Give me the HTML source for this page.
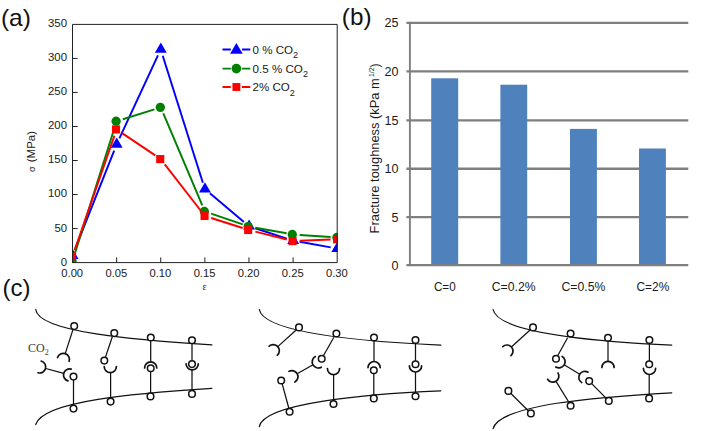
<!DOCTYPE html>
<html lang="en"><head><meta charset="utf-8"><title>Figure</title>
<style>html,body{margin:0;padding:0;background:#fff}svg{display:block}</style></head>
<body>
<svg width="705" height="431" viewBox="0 0 705 431">
<rect width="705" height="431" fill="#fff"/>
<defs><clipPath id="cpa"><rect x="72.00" y="23.90" width="265.70" height="239.20"/></clipPath></defs>
<g clip-path="url(#cpa)">
<line x1="74.93" y1="249.46" x2="114.18" y2="150.52" stroke="#0000ff" stroke-width="1.95"/>
<line x1="119.40" y1="138.40" x2="157.95" y2="55.36" stroke="#0000ff" stroke-width="1.95"/>
<line x1="162.72" y1="55.67" x2="202.86" y2="182.74" stroke="#0000ff" stroke-width="1.95"/>
<line x1="209.90" y1="193.28" x2="243.92" y2="221.94" stroke="#0000ff" stroke-width="1.95"/>
<line x1="255.24" y1="228.24" x2="286.81" y2="238.57" stroke="#0000ff" stroke-width="1.95"/>
<line x1="299.58" y1="241.78" x2="330.70" y2="247.35" stroke="#0000ff" stroke-width="1.95"/>
<polygon points="72.60,248.79 66.65,258.99 78.55,258.99" fill="#0000ff"/>
<polygon points="116.72,137.58 110.77,147.78 122.67,147.78" fill="#0000ff"/>
<polygon points="160.83,42.58 154.88,52.78 166.78,52.78" fill="#0000ff"/>
<polygon points="204.95,182.23 199.00,192.43 210.90,192.43" fill="#0000ff"/>
<polygon points="249.07,219.39 243.12,229.59 255.02,229.59" fill="#0000ff"/>
<polygon points="293.18,233.82 287.23,244.02 299.13,244.02" fill="#0000ff"/>
<polygon points="337.30,241.71 331.35,251.91 343.25,251.91" fill="#0000ff"/>
<line x1="74.49" y1="254.60" x2="114.63" y2="127.47" stroke="#008000" stroke-width="1.95"/>
<line x1="122.92" y1="119.20" x2="154.43" y2="109.33" stroke="#008000" stroke-width="1.95"/>
<line x1="163.31" y1="113.44" x2="202.28" y2="205.41" stroke="#008000" stroke-width="1.95"/>
<line x1="211.10" y1="213.62" x2="242.72" y2="224.40" stroke="#008000" stroke-width="1.95"/>
<line x1="255.46" y1="227.70" x2="286.59" y2="233.32" stroke="#008000" stroke-width="1.95"/>
<line x1="299.67" y1="234.94" x2="330.62" y2="237.04" stroke="#008000" stroke-width="1.95"/>
<circle cx="72.00" cy="260.90" r="4.65" fill="#008000"/>
<circle cx="116.12" cy="121.18" r="4.65" fill="#008000"/>
<circle cx="160.33" cy="107.36" r="4.65" fill="#008000"/>
<circle cx="204.35" cy="211.49" r="4.65" fill="#008000"/>
<circle cx="248.17" cy="226.53" r="4.65" fill="#008000"/>
<circle cx="292.28" cy="234.49" r="4.65" fill="#008000"/>
<circle cx="336.90" cy="237.49" r="4.65" fill="#008000"/>
<line x1="74.67" y1="249.97" x2="114.45" y2="135.65" stroke="#ff0000" stroke-width="1.95"/>
<line x1="122.09" y1="133.10" x2="155.26" y2="155.40" stroke="#ff0000" stroke-width="1.95"/>
<line x1="164.78" y1="164.30" x2="200.81" y2="210.77" stroke="#ff0000" stroke-width="1.95"/>
<line x1="211.14" y1="217.98" x2="242.68" y2="228.00" stroke="#ff0000" stroke-width="1.95"/>
<line x1="255.37" y1="231.61" x2="286.68" y2="239.48" stroke="#ff0000" stroke-width="1.95"/>
<line x1="299.68" y1="240.83" x2="330.61" y2="239.59" stroke="#ff0000" stroke-width="1.95"/>
<rect x="67.95" y="252.15" width="8.10" height="8.10" fill="#ff0000"/>
<rect x="111.97" y="125.36" width="8.10" height="8.10" fill="#ff0000"/>
<rect x="156.18" y="155.04" width="8.10" height="8.10" fill="#ff0000"/>
<rect x="200.50" y="211.93" width="8.10" height="8.10" fill="#ff0000"/>
<rect x="244.12" y="225.95" width="8.10" height="8.10" fill="#ff0000"/>
<rect x="288.53" y="237.04" width="8.10" height="8.10" fill="#ff0000"/>
<rect x="333.05" y="235.27" width="8.10" height="8.10" fill="#ff0000"/>
</g>
<path d="M72.50 24.40 H337.20 V262.60 H72.50 Z" fill="none" stroke="#222" stroke-width="1.0"/>
<path d="M72.50 228.57 h5.2 M72.50 194.54 h5.2 M72.50 160.51 h5.2 M72.50 126.49 h5.2 M72.50 92.46 h5.2 M72.50 58.43 h5.2 M116.62 262.60 v-5.2 M160.73 262.60 v-5.2 M204.85 262.60 v-5.2 M248.97 262.60 v-5.2 M293.08 262.60 v-5.2" fill="none" stroke="#222" stroke-width="1.0"/>
<g font-family='"Liberation Sans", sans-serif' font-size="10.6" fill="#1a1a1a">
<text x="67.00" y="265.69" text-anchor="end" textLength="6.3" lengthAdjust="spacingAndGlyphs">0</text>
<text x="67.00" y="231.57" text-anchor="end" textLength="12.6" lengthAdjust="spacingAndGlyphs">50</text>
<text x="67.00" y="197.45" text-anchor="end" textLength="19.0" lengthAdjust="spacingAndGlyphs">100</text>
<text x="67.00" y="163.33" text-anchor="end" textLength="19.0" lengthAdjust="spacingAndGlyphs">150</text>
<text x="67.00" y="129.21" text-anchor="end" textLength="19.0" lengthAdjust="spacingAndGlyphs">200</text>
<text x="67.00" y="95.09" text-anchor="end" textLength="19.0" lengthAdjust="spacingAndGlyphs">250</text>
<text x="67.00" y="60.97" text-anchor="end" textLength="19.0" lengthAdjust="spacingAndGlyphs">300</text>
<text x="67.00" y="26.85" text-anchor="end" textLength="19.0" lengthAdjust="spacingAndGlyphs">350</text>
<text x="72.20" y="276.60" text-anchor="middle" textLength="21.8" lengthAdjust="spacingAndGlyphs">0.00</text>
<text x="116.32" y="276.60" text-anchor="middle" textLength="21.8" lengthAdjust="spacingAndGlyphs">0.05</text>
<text x="160.43" y="276.60" text-anchor="middle" textLength="21.8" lengthAdjust="spacingAndGlyphs">0.10</text>
<text x="204.55" y="276.60" text-anchor="middle" textLength="21.8" lengthAdjust="spacingAndGlyphs">0.15</text>
<text x="248.67" y="276.60" text-anchor="middle" textLength="21.8" lengthAdjust="spacingAndGlyphs">0.20</text>
<text x="292.78" y="276.60" text-anchor="middle" textLength="21.8" lengthAdjust="spacingAndGlyphs">0.25</text>
<text x="336.90" y="276.60" text-anchor="middle" textLength="21.8" lengthAdjust="spacingAndGlyphs">0.30</text>
</g>
<text transform="translate(34.6,162.2) rotate(-90)" font-family='"Liberation Sans", sans-serif' font-size="10.6" fill="#1a1a1a" textLength="31.2" lengthAdjust="spacingAndGlyphs">(MPa)</text>
<text transform="translate(34.6,171.9) rotate(-90)" font-family='"Liberation Sans", sans-serif' font-size="9.2" fill="#1a1a1a">σ</text>
<text x="204.6" y="289.6" font-family='"Liberation Serif", serif' font-size="10" fill="#1a1a1a" text-anchor="middle">ε</text>
<path d="M222.5 49.50 H230.8 M242 49.50 H250.3" stroke="#0000ff" stroke-width="1.8"/>
<polygon points="236.40,43.03 230.10,53.63 242.70,53.63" fill="#0000ff"/>
<text x="252.6" y="54.20" font-family='"Liberation Sans", sans-serif' font-size="10.6" fill="#1a1a1a"><tspan textLength="40.5" lengthAdjust="spacingAndGlyphs">0 % CO</tspan><tspan dy="4.1" font-size="9.1">2</tspan></text>
<path d="M222.5 68.60 H230.8 M242 68.60 H250.3" stroke="#008000" stroke-width="1.8"/>
<circle cx="236.40" cy="68.60" r="4.85" fill="#008000"/>
<text x="252.6" y="72.50" font-family='"Liberation Sans", sans-serif' font-size="10.6" fill="#1a1a1a"><tspan textLength="50.3" lengthAdjust="spacingAndGlyphs">0.5 % CO</tspan><tspan dy="4.1" font-size="9.1">2</tspan></text>
<path d="M222.5 87.00 H230.8 M242 87.00 H250.3" stroke="#ff0000" stroke-width="1.8"/>
<rect x="232.45" y="83.05" width="7.9" height="7.9" fill="#ff0000"/>
<text x="252.6" y="91.40" font-family='"Liberation Sans", sans-serif' font-size="10.6" fill="#1a1a1a"><tspan textLength="37.2" lengthAdjust="spacingAndGlyphs">2% CO</tspan><tspan dy="4.1" font-size="9.1">2</tspan></text>
<g font-family='"Liberation Sans", sans-serif' font-size="23.2" fill="#111">
<text x="0.9" y="26" textLength="30.0" lengthAdjust="spacingAndGlyphs">(a)</text>
<text x="341.8" y="25.4" textLength="29.7" lengthAdjust="spacingAndGlyphs">(b)</text>
<text x="2.6" y="295.5" textLength="28.0" lengthAdjust="spacingAndGlyphs">(c)</text>
</g>
<path d="M406.4 265.10 H688.30 M406.4 217.10 H688.30 M406.4 168.70 H688.30 M406.4 120.40 H688.30 M406.4 71.40 H688.30 M406.4 22.85 H688.30" stroke="#7f7f7f" stroke-width="2.4" fill="none"/>
<rect x="431.20" y="78.30" width="27.00" height="185.80" fill="#4f81bd"/>
<rect x="500.40" y="84.70" width="26.80" height="179.40" fill="#4f81bd"/>
<rect x="570.00" y="128.90" width="26.90" height="135.20" fill="#4f81bd"/>
<rect x="639.00" y="148.50" width="26.90" height="115.60" fill="#4f81bd"/>
<path d="M409.90 21.85 V266.10" stroke="#7f7f7f" stroke-width="1.9" fill="none"/>
<g font-family='"Liberation Sans", sans-serif' font-size="12" fill="#1a1a1a">
<text x="398.6" y="269.50" text-anchor="end" textLength="7.0" lengthAdjust="spacingAndGlyphs">0</text>
<text x="398.6" y="221.50" text-anchor="end" textLength="7.0" lengthAdjust="spacingAndGlyphs">5</text>
<text x="398.6" y="173.10" text-anchor="end" textLength="14.0" lengthAdjust="spacingAndGlyphs">10</text>
<text x="398.6" y="124.80" text-anchor="end" textLength="14.0" lengthAdjust="spacingAndGlyphs">15</text>
<text x="398.6" y="75.80" text-anchor="end" textLength="14.0" lengthAdjust="spacingAndGlyphs">20</text>
<text x="398.6" y="27.25" text-anchor="end" textLength="14.0" lengthAdjust="spacingAndGlyphs">25</text>
<text x="444.80" y="290.9" text-anchor="middle" textLength="21.8" lengthAdjust="spacingAndGlyphs">C=0</text>
<text x="513.70" y="290.9" text-anchor="middle" textLength="43.8" lengthAdjust="spacingAndGlyphs">C=0.2%</text>
<text x="583.40" y="290.9" text-anchor="middle" textLength="43.8" lengthAdjust="spacingAndGlyphs">C=0.5%</text>
<text x="652.90" y="290.9" text-anchor="middle" textLength="32.8" lengthAdjust="spacingAndGlyphs">C=2%</text>
<text transform="translate(378.8,233.4) rotate(-90)" textLength="155.2" lengthAdjust="spacingAndGlyphs">Fracture toughness (kPa m</text>
<text transform="translate(373.9,77.0) rotate(-90)" font-size="7.6" textLength="9.6" lengthAdjust="spacingAndGlyphs">1/2</text>
<text transform="translate(378.8,67.4) rotate(-90)">)</text>
</g>
<path d="M35.7 309.5 C38.3 332.3 135.9 340.2 211.9 344.9" fill="none" stroke="#111" stroke-width="1.25" stroke-linecap="round"/>
<path d="M35.7 424.5 C42.7 400.6 136.0 393.2 211.9 388.4" fill="none" stroke="#111" stroke-width="1.25" stroke-linecap="round"/>
<line x1="72.90" y1="329.90" x2="65.20" y2="353.60" stroke="#111" stroke-width="1.25"/><path d="M57.51 357.52 A6.10 6.10 0 0 1 65.20 353.60 A6.10 6.10 0 0 1 69.12 361.29" fill="none" stroke="#111" stroke-width="1.7" stroke-linecap="round"/>
<line x1="73.50" y1="376.60" x2="73.50" y2="408.00" stroke="#111" stroke-width="1.25"/>
<line x1="45.70" y1="368.50" x2="63.80" y2="373.40" stroke="#111" stroke-width="1.25"/>
<path d="M41.19 361.01 A6.10 6.10 0 0 1 45.49 368.49 A6.10 6.10 0 0 1 38.01 372.79" fill="none" stroke="#111" stroke-width="1.7" stroke-linecap="round"/>
<path d="M68.01 380.89 A6.10 6.10 0 0 1 63.71 373.41 A6.10 6.10 0 0 1 71.19 369.11" fill="none" stroke="#111" stroke-width="1.7" stroke-linecap="round"/>
<circle cx="74.20" cy="326.10" r="3.30" fill="#fff" stroke="#111" stroke-width="1.5"/>
<circle cx="73.50" cy="376.60" r="3.30" fill="#fff" stroke="#111" stroke-width="1.5"/>
<circle cx="73.50" cy="408.60" r="3.30" fill="#fff" stroke="#111" stroke-width="1.5"/>
<line x1="112.30" y1="336.80" x2="104.30" y2="360.60" stroke="#111" stroke-width="1.25"/>
<line x1="110.60" y1="372.70" x2="110.60" y2="401.00" stroke="#111" stroke-width="1.25"/>
<path d="M116.40 366.50 A6.10 6.10 0 0 1 110.30 372.60 A6.10 6.10 0 0 1 104.20 366.50" fill="none" stroke="#111" stroke-width="1.7" stroke-linecap="round"/>
<circle cx="114.30" cy="333.10" r="3.30" fill="#fff" stroke="#111" stroke-width="1.5"/>
<circle cx="104.30" cy="360.60" r="3.30" fill="#fff" stroke="#111" stroke-width="1.5"/>
<circle cx="110.60" cy="401.60" r="3.30" fill="#fff" stroke="#111" stroke-width="1.5"/>
<line x1="150.70" y1="337.50" x2="150.70" y2="362.00" stroke="#111" stroke-width="1.25"/>
<line x1="150.60" y1="368.20" x2="150.60" y2="396.40" stroke="#111" stroke-width="1.25"/>
<path d="M144.60 368.00 A6.10 6.10 0 0 1 150.70 361.90 A6.10 6.10 0 0 1 156.80 368.00" fill="none" stroke="#111" stroke-width="1.7" stroke-linecap="round"/>
<circle cx="150.80" cy="337.50" r="3.30" fill="#fff" stroke="#111" stroke-width="1.5"/>
<circle cx="150.70" cy="368.30" r="3.30" fill="#fff" stroke="#111" stroke-width="1.5"/>
<circle cx="150.50" cy="396.40" r="3.30" fill="#fff" stroke="#111" stroke-width="1.5"/>
<line x1="192.00" y1="340.30" x2="192.00" y2="364.00" stroke="#111" stroke-width="1.25"/>
<line x1="192.00" y1="370.00" x2="192.00" y2="393.90" stroke="#111" stroke-width="1.25"/>
<path d="M198.30 363.80 A6.10 6.10 0 0 1 192.20 369.90 A6.10 6.10 0 0 1 186.10 363.80" fill="none" stroke="#111" stroke-width="1.7" stroke-linecap="round"/>
<circle cx="192.00" cy="340.30" r="3.30" fill="#fff" stroke="#111" stroke-width="1.5"/>
<circle cx="192.00" cy="364.10" r="3.30" fill="#fff" stroke="#111" stroke-width="1.5"/>
<circle cx="192.00" cy="393.90" r="3.30" fill="#fff" stroke="#111" stroke-width="1.5"/>
<text x="28" y="352.2" font-family='"Liberation Serif", serif' font-size="12" fill="#3a3a3a">CO<tspan dy="2.3" font-size="8">2</tspan></text>
<path d="M259.3 309.5 C263.3 331.6 353.0 341.1 440.8 345.2" fill="none" stroke="#111" stroke-width="1.25" stroke-linecap="round"/>
<path d="M259.3 426.6 C263.7 403.0 365.4 394.1 440.8 390.9" fill="none" stroke="#111" stroke-width="1.25" stroke-linecap="round"/>
<line x1="295.90" y1="330.30" x2="277.80" y2="346.60" stroke="#111" stroke-width="1.25"/><path d="M269.19 346.15 A6.10 6.10 0 0 1 277.80 346.60 A6.10 6.10 0 0 1 277.35 355.21" fill="none" stroke="#111" stroke-width="1.7" stroke-linecap="round"/>
<line x1="333.90" y1="337.30" x2="321.70" y2="358.80" stroke="#111" stroke-width="1.25"/>
<line x1="297.10" y1="373.80" x2="313.10" y2="364.80" stroke="#111" stroke-width="1.25"/>
<path d="M321.29 367.22 A6.10 6.10 0 0 1 312.98 364.89 A6.10 6.10 0 0 1 315.31 356.58" fill="none" stroke="#111" stroke-width="1.7" stroke-linecap="round"/>
<path d="M288.91 371.38 A6.10 6.10 0 0 1 297.22 373.71 A6.10 6.10 0 0 1 294.89 382.02" fill="none" stroke="#111" stroke-width="1.7" stroke-linecap="round"/>
<line x1="281.30" y1="380.70" x2="289.30" y2="410.00" stroke="#111" stroke-width="1.25"/>
<line x1="333.60" y1="374.70" x2="333.60" y2="404.00" stroke="#111" stroke-width="1.25"/>
<path d="M339.60 368.60 A6.10 6.10 0 0 1 333.50 374.70 A6.10 6.10 0 0 1 327.40 368.60" fill="none" stroke="#111" stroke-width="1.7" stroke-linecap="round"/>
<circle cx="299.00" cy="327.40" r="3.30" fill="#fff" stroke="#111" stroke-width="1.5"/>
<circle cx="336.40" cy="333.50" r="3.30" fill="#fff" stroke="#111" stroke-width="1.5"/>
<circle cx="321.70" cy="358.80" r="3.30" fill="#fff" stroke="#111" stroke-width="1.5"/>
<circle cx="281.20" cy="380.50" r="3.30" fill="#fff" stroke="#111" stroke-width="1.5"/>
<circle cx="289.60" cy="411.80" r="3.30" fill="#fff" stroke="#111" stroke-width="1.5"/>
<circle cx="333.50" cy="404.00" r="3.30" fill="#fff" stroke="#111" stroke-width="1.5"/>
<line x1="374.00" y1="337.50" x2="374.00" y2="361.50" stroke="#111" stroke-width="1.25"/>
<path d="M368.00 367.60 A6.10 6.10 0 0 1 374.10 361.50 A6.10 6.10 0 0 1 380.20 367.60" fill="none" stroke="#111" stroke-width="1.7" stroke-linecap="round"/>
<line x1="373.80" y1="370.30" x2="373.80" y2="398.40" stroke="#111" stroke-width="1.25"/>
<circle cx="374.00" cy="337.50" r="3.30" fill="#fff" stroke="#111" stroke-width="1.5"/>
<circle cx="373.80" cy="370.30" r="3.30" fill="#fff" stroke="#111" stroke-width="1.5"/>
<circle cx="373.80" cy="398.40" r="3.30" fill="#fff" stroke="#111" stroke-width="1.5"/>
<line x1="415.50" y1="340.00" x2="415.50" y2="364.00" stroke="#111" stroke-width="1.25"/>
<path d="M421.60 365.90 A6.10 6.10 0 0 1 415.50 372.00 A6.10 6.10 0 0 1 409.40 365.90" fill="none" stroke="#111" stroke-width="1.7" stroke-linecap="round"/>
<line x1="415.50" y1="372.00" x2="415.50" y2="396.30" stroke="#111" stroke-width="1.25"/>
<circle cx="415.50" cy="340.00" r="3.30" fill="#fff" stroke="#111" stroke-width="1.5"/>
<circle cx="415.50" cy="364.20" r="3.30" fill="#fff" stroke="#111" stroke-width="1.5"/>
<circle cx="415.50" cy="396.30" r="3.30" fill="#fff" stroke="#111" stroke-width="1.5"/>
<path d="M493.1 309.5 C497.3 331.9 586.4 341.1 671.7 345.2" fill="none" stroke="#111" stroke-width="1.25" stroke-linecap="round"/>
<path d="M493.1 428.7 C499.3 404.6 597.5 396.9 671.7 392.8" fill="none" stroke="#111" stroke-width="1.25" stroke-linecap="round"/>
<line x1="529.80" y1="330.30" x2="511.40" y2="347.00" stroke="#111" stroke-width="1.25"/><path d="M502.78 346.58 A6.10 6.10 0 0 1 511.40 347.00 A6.10 6.10 0 0 1 510.98 355.62" fill="none" stroke="#111" stroke-width="1.7" stroke-linecap="round"/>
<line x1="567.60" y1="337.80" x2="556.00" y2="358.70" stroke="#111" stroke-width="1.25"/>
<line x1="564.10" y1="364.80" x2="579.80" y2="374.30" stroke="#111" stroke-width="1.25"/>
<path d="M562.16 356.48 A6.10 6.10 0 0 1 564.22 364.86 A6.10 6.10 0 0 1 555.84 366.92" fill="none" stroke="#111" stroke-width="1.7" stroke-linecap="round"/>
<path d="M581.74 382.62 A6.10 6.10 0 0 1 579.68 374.24 A6.10 6.10 0 0 1 588.06 372.18" fill="none" stroke="#111" stroke-width="1.7" stroke-linecap="round"/>
<line x1="589.20" y1="381.10" x2="608.80" y2="400.90" stroke="#111" stroke-width="1.25"/>
<line x1="570.30" y1="404.50" x2="556.00" y2="381.30" stroke="#111" stroke-width="1.25"/><path d="M557.99 372.91 A6.10 6.10 0 0 1 556.00 381.30 A6.10 6.10 0 0 1 547.61 379.31" fill="none" stroke="#111" stroke-width="1.7" stroke-linecap="round"/>
<line x1="508.40" y1="390.90" x2="530.50" y2="413.00" stroke="#111" stroke-width="1.25"/>
<circle cx="533.00" cy="327.40" r="3.30" fill="#fff" stroke="#111" stroke-width="1.5"/>
<circle cx="570.60" cy="333.50" r="3.30" fill="#fff" stroke="#111" stroke-width="1.5"/>
<circle cx="556.00" cy="358.70" r="3.30" fill="#fff" stroke="#111" stroke-width="1.5"/>
<circle cx="589.20" cy="381.10" r="3.30" fill="#fff" stroke="#111" stroke-width="1.5"/>
<circle cx="608.80" cy="400.90" r="3.30" fill="#fff" stroke="#111" stroke-width="1.5"/>
<circle cx="570.60" cy="405.80" r="3.30" fill="#fff" stroke="#111" stroke-width="1.5"/>
<circle cx="508.40" cy="390.90" r="3.30" fill="#fff" stroke="#111" stroke-width="1.5"/>
<circle cx="530.90" cy="413.40" r="3.30" fill="#fff" stroke="#111" stroke-width="1.5"/>
<line x1="608.00" y1="337.80" x2="608.00" y2="361.30" stroke="#111" stroke-width="1.25"/>
<path d="M601.90 367.50 A6.10 6.10 0 0 1 608.00 361.40 A6.10 6.10 0 0 1 614.10 367.50" fill="none" stroke="#111" stroke-width="1.7" stroke-linecap="round"/>
<circle cx="608.00" cy="337.80" r="3.30" fill="#fff" stroke="#111" stroke-width="1.5"/>
<line x1="649.40" y1="340.00" x2="649.40" y2="364.20" stroke="#111" stroke-width="1.25"/>
<path d="M655.60 368.40 A6.10 6.10 0 0 1 649.50 374.50 A6.10 6.10 0 0 1 643.40 368.40" fill="none" stroke="#111" stroke-width="1.7" stroke-linecap="round"/>
<line x1="649.20" y1="374.40" x2="649.20" y2="398.40" stroke="#111" stroke-width="1.25"/>
<circle cx="649.40" cy="340.00" r="3.30" fill="#fff" stroke="#111" stroke-width="1.5"/>
<circle cx="649.20" cy="364.20" r="3.30" fill="#fff" stroke="#111" stroke-width="1.5"/>
<circle cx="649.10" cy="398.40" r="3.30" fill="#fff" stroke="#111" stroke-width="1.5"/>
</svg>
</body></html>
